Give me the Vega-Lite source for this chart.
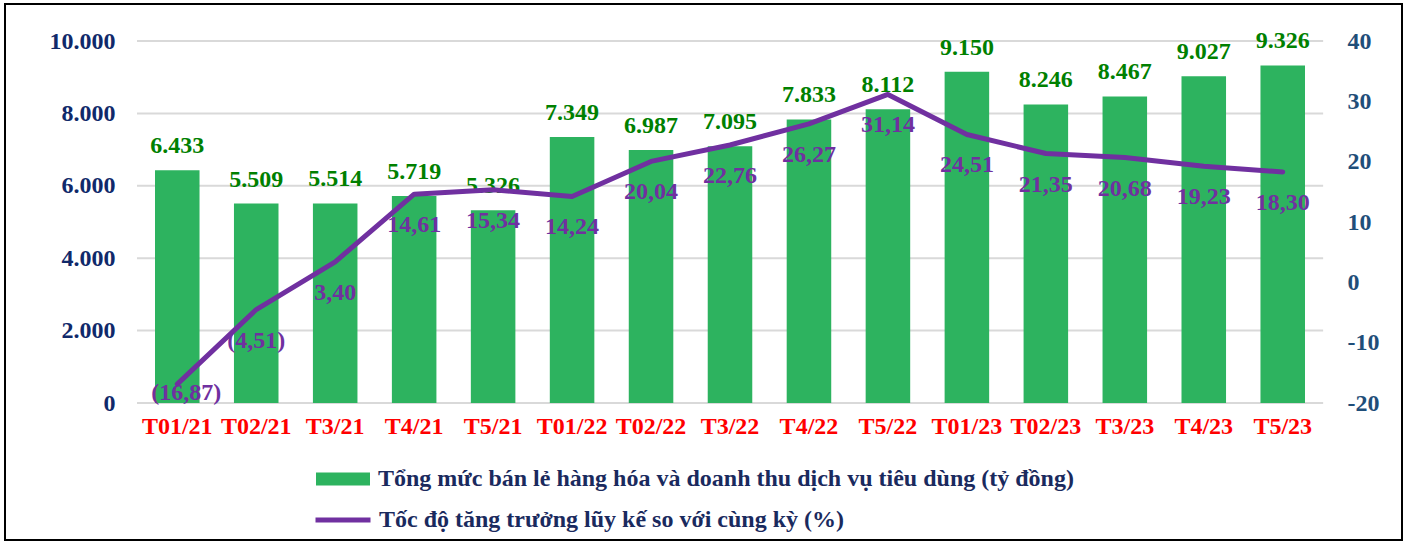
{
  "$schema": "https://vega.github.io/schema/vega-lite/v6.json",
  "autosize": {"type": "none"},
  "width": 1397,
  "height": 536,
  "padding": {"left": 5, "top": 4, "right": 8, "bottom": 3},
  "background": "white",
  "config": {
    "view": {"stroke": "#000000", "strokeWidth": 2},
    "font": "Liberation Serif",
    "locale": {"number": {"decimal": ",", "thousands": ".", "grouping": [3], "currency": ["", ""], "minus": "-"}},
    "axis": {"labelFont": "Liberation Serif", "labelFontWeight": "bold", "domain": false, "ticks": false, "grid": false, "title": null}
  },
  "data": {"values": [
    {"m": "T01/21", "sales": 6433, "growth": -16.87},
    {"m": "T02/21", "sales": 5509, "growth": -4.51},
    {"m": "T3/21", "sales": 5514, "growth": 3.40},
    {"m": "T4/21", "sales": 5719, "growth": 14.61},
    {"m": "T5/21", "sales": 5326, "growth": 15.34},
    {"m": "T01/22", "sales": 7349, "growth": 14.24},
    {"m": "T02/22", "sales": 6987, "growth": 20.04},
    {"m": "T3/22", "sales": 7095, "growth": 22.76},
    {"m": "T4/22", "sales": 7833, "growth": 26.27},
    {"m": "T5/22", "sales": 8112, "growth": 31.14},
    {"m": "T01/23", "sales": 9150, "growth": 24.51},
    {"m": "T02/23", "sales": 8246, "growth": 21.35},
    {"m": "T3/23", "sales": 8467, "growth": 20.68},
    {"m": "T4/23", "sales": 9027, "growth": 19.23},
    {"m": "T5/23", "sales": 9326, "growth": 18.30}
  ]},
  "encoding": {
    "x": {
      "field": "m", "type": "nominal", "sort": null,
      "scale": {
        "domain": ["T01/21", "T02/21", "T3/21", "T4/21", "T5/21", "T01/22", "T02/22", "T3/22", "T4/22", "T5/22", "T01/23", "T02/23", "T3/23", "T4/23", "T5/23"],
        "range": [150, 1300],
        "paddingInner": 0.436, "paddingOuter": 0
      },
      "axis": {"labelAngle": 0, "labelColor": "#FF0000", "labelFontSize": 24, "labelPadding": 11, "offset": -137}
    }
  },
  "layer": [
    {
      "layer": [
        {
          "data": {"values": [{"g": 0}, {"g": 2000}, {"g": 4000}, {"g": 6000}, {"g": 8000}, {"g": 10000}]},
          "mark": {"type": "rule", "color": "#D9D9D9", "strokeWidth": 2},
          "encoding": {
            "x": {"datum": "T01/21", "type": "nominal", "bandPosition": -0.404},
            "x2": {"datum": "T5/23", "bandPosition": 1.407},
            "y": {"field": "g", "type": "quantitative"}
          }
        },
        {
          "mark": {"type": "bar"},
          "encoding": {
            "y": {
              "field": "sales", "type": "quantitative",
              "scale": {"domain": [-3784.5, 11022.1], "nice": false, "zero": false},
              "axis": {"orient": "left", "values": [0, 2000, 4000, 6000, 8000, 10000], "format": ",.0f", "labelColor": "#10296A", "labelFontSize": 24, "labelPadding": 22, "offset": -132}
            },
            "y2": {"datum": 0},
            "fill": {"datum": "Tổng mức bán lẻ hàng hóa và doanh thu dịch vụ tiêu dùng (tỷ đồng)", "type": "nominal",
              "scale": {"range": ["#2DB35F"]},
              "legend": {"orient": "none", "legendX": 311, "legendY": 448, "title": null, "padding": 0,
                "symbolType": "M-1,-0.24H1V0.24H-1Z", "symbolSize": 2916, "symbolStrokeWidth": 0,
                "labelFont": "Liberation Serif", "labelFontWeight": "bold", "labelFontSize": 24, "labelColor": "#1A2A5E", "labelLimit": 1000, "labelOffset": 8}}
          }
        },
        {
          "mark": {"type": "text", "baseline": "middle", "dy": -24, "font": "Liberation Serif", "fontWeight": "bold", "fontSize": 24, "color": "#008000"},
          "encoding": {
            "y": {"field": "sales", "type": "quantitative"},
            "text": {"field": "sales", "type": "quantitative", "format": ",.0f"}
          }
        }
      ]
    },
    {
      "encoding": {
        "y": {
          "field": "growth", "type": "quantitative",
          "scale": {"domain": [-42.707, 46.133], "nice": false, "zero": false},
          "axis": {"orient": "right", "values": [-20, -10, 0, 10, 20, 30, 40], "labelColor": "#1F4E79", "labelFontSize": 24, "labelPadding": 24, "offset": -79}
        }
      },
      "layer": [
        {
          "mark": {"type": "line", "strokeWidth": 5, "strokeCap": "round", "strokeJoin": "round"},
          "encoding": {
            "stroke": {"datum": "Tốc độ tăng trưởng lũy kế so với cùng kỳ (%)", "type": "nominal",
              "scale": {"range": ["#7030A0"]},
              "legend": {"orient": "none", "legendX": 308, "legendY": 486, "title": null, "padding": 0,
                "symbolType": "stroke", "symbolSize": 3025, "symbolStrokeWidth": 5,
                "labelFont": "Liberation Serif", "labelFontWeight": "bold", "labelFontSize": 24, "labelColor": "#1A2A5E", "labelLimit": 1000, "labelOffset": 6}}
          }
        },
        {
          "transform": [{"filter": "datum.m != 'T01/21'"}],
          "mark": {"type": "text", "baseline": "middle", "dy": 31, "font": "Liberation Serif", "fontWeight": "bold", "fontSize": 24, "color": "#7030A0"},
          "encoding": {"text": {"field": "growth", "type": "quantitative", "format": "(.2f"}}
        },
        {
          "transform": [{"filter": "datum.m == 'T01/21'"}],
          "mark": {"type": "text", "baseline": "middle", "dy": 9, "dx": 9, "font": "Liberation Serif", "fontWeight": "bold", "fontSize": 24, "color": "#7030A0"},
          "encoding": {"text": {"field": "growth", "type": "quantitative", "format": "(.2f"}}
        }
      ]
    }
  ],
  "resolve": {"scale": {"y": "independent"}}
}
